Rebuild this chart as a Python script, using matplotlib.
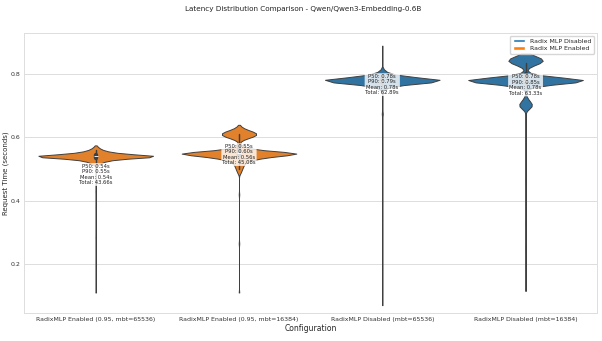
import numpy as np
import pandas as pd
import matplotlib
matplotlib.use("Agg")
import matplotlib.pyplot as plt
from matplotlib.patches import Patch
import seaborn as sns

# ---- data ----
configs = [
    "RadixMLP Enabled (0.95, mbt=65536)",
    "RadixMLP Enabled (0.95, mbt=16384)",
    "RadixMLP Disabled (mbt=65536)",
    "RadixMLP Disabled (mbt=16384)",
]
modes = ["Radix MLP Enabled", "Radix MLP Enabled", "Radix MLP Disabled", "Radix MLP Disabled"]

v1_values = [0.110, 0.285, 0.380, 0.430,
             0.515, 0.520, 0.525, 0.530, 0.535, 0.540, 0.545, 0.550, 0.555, 0.560, 0.565, 0.570, 0.575]
v1_counts = [1, 1, 1, 1,
             4, 8, 14, 26, 50, 120, 60, 32, 18, 10, 6, 3, 1]

v2_values = [0.110, 0.265, 0.420,
             0.485, 0.490, 0.495, 0.500, 0.505, 0.510, 0.515, 0.520,
             0.525, 0.530, 0.535, 0.540, 0.545, 0.550, 0.555, 0.560, 0.565, 0.570, 0.575, 0.580,
             0.590, 0.595, 0.600, 0.605, 0.610, 0.615, 0.620, 0.625, 0.630, 0.635, 0.640]
v2_counts = [1, 1, 1,
             2, 3, 4, 5, 6, 7, 8, 10,
             14, 24, 36, 55, 80, 120, 60, 32, 16, 8, 4, 2,
             4, 10, 18, 26, 30, 27, 20, 12, 6, 3, 1]

v3_values = [0.070, 0.350, 0.435, 0.465, 0.675,
             0.755, 0.760, 0.765, 0.770, 0.775, 0.780, 0.785, 0.790, 0.795, 0.800, 0.805, 0.810, 0.815,
             0.850, 0.890]
v3_counts = [1, 1, 1, 1, 2,
             2, 5, 12, 28, 55, 120, 55, 28, 14, 8, 5, 3, 1,
             1, 1]

v4_values = [0.115, 0.250, 0.330, 0.465,
             0.690, 0.695, 0.700, 0.705, 0.710, 0.715, 0.720, 0.725, 0.730,
             0.760, 0.765, 0.770, 0.775, 0.780, 0.785, 0.790, 0.795, 0.800, 0.805,
             0.820, 0.825, 0.830, 0.835, 0.840, 0.845, 0.850, 0.855, 0.860, 0.865]
v4_counts = [1, 1, 1, 1,
             3, 7, 9, 8, 6, 4, 3, 2, 1,
             6, 14, 30, 58, 120, 55, 26, 12, 5, 2,
             2, 5, 11, 17, 21, 22, 19, 13, 7, 3]

p50_labels = ["0.54s", "0.55s", "0.78s", "0.78s"]
p90_labels = ["0.55s", "0.60s", "0.79s", "0.85s"]
mean_labels = ["0.54s", "0.56s", "0.78s", "0.78s"]
total_labels = ["43.66s", "45.08s", "62.89s", "63.33s"]

# ---- build long-form table ----
all_values = [v1_values, v2_values, v3_values, v4_values]
all_counts = [v1_counts, v2_counts, v3_counts, v4_counts]
rows = []
for cfg, mode, vals, cnts in zip(configs, modes, all_values, all_counts):
    for v in np.repeat(vals, cnts):
        rows.append((cfg, mode, v))
df = pd.DataFrame(rows, columns=["Configuration", "Mode", "Request Time"])

sns.set_theme(style="whitegrid")
plt.rcParams["font.family"] = ["DejaVu Sans"]

palette = {"Radix MLP Disabled": "#1f77b4", "Radix MLP Enabled": "#ff7f0e"}

fig = plt.figure(figsize=(6.02, 3.41), dpi=100)
ax = fig.add_axes([0.040, 0.082, 0.952, 0.821])

sns.violinplot(data=df, x="Configuration", y="Request Time", hue="Mode", order=configs,
               palette=palette, cut=0, inner="box", density_norm="width", bw_adjust=0.45,
               linewidth=0.7, ax=ax, legend=False)

label_y = [0.483, 0.546, 0.767, 0.766]
for i in range(len(configs)):
    txt = f"P50: {p50_labels[i]}\nP90: {p90_labels[i]}\nMean: {mean_labels[i]}\nTotal: {total_labels[i]}"
    ax.text(i, label_y[i], txt, ha="center", va="center", fontsize=3.8, color="#222222",
            linespacing=1.1, zorder=10,
            bbox=dict(boxstyle="round,pad=0.15", facecolor="white", edgecolor="none", alpha=0.8))

ax.set_ylim(0.045, 0.93)
ax.set_xlim(-0.5, 3.5)
ax.xaxis.grid(False)
ax.yaxis.grid(True, color="#dddddd", linewidth=0.7)
for s in ax.spines.values():
    s.set_color("#dddddd")
    s.set_linewidth(0.7)
ax.tick_params(axis="both", labelsize=4.5, colors="#333333", length=0, pad=2.5)
ax.set_yticks([0.2, 0.4, 0.6, 0.8])
ax.set_xlabel("Configuration", fontsize=5.5, labelpad=2)
ax.set_ylabel("Request Time (seconds)", fontsize=5.0, labelpad=1.5)

handles = [Patch(facecolor="#1f77b4", label="Radix MLP Disabled"),
           Patch(facecolor="#ff7f0e", label="Radix MLP Enabled")]
ax.legend(handles=handles, loc="upper right", fontsize=4.5, frameon=True, handlelength=2.0,
          handleheight=0.5, borderpad=0.4, labelspacing=0.4, framealpha=0.8)

fig.suptitle("Latency Distribution Comparison - Qwen/Qwen3-Embedding-0.6B", fontsize=5.2,
             x=0.503, y=0.982, color="#222222")

fig.savefig("out.png", dpi=100)
